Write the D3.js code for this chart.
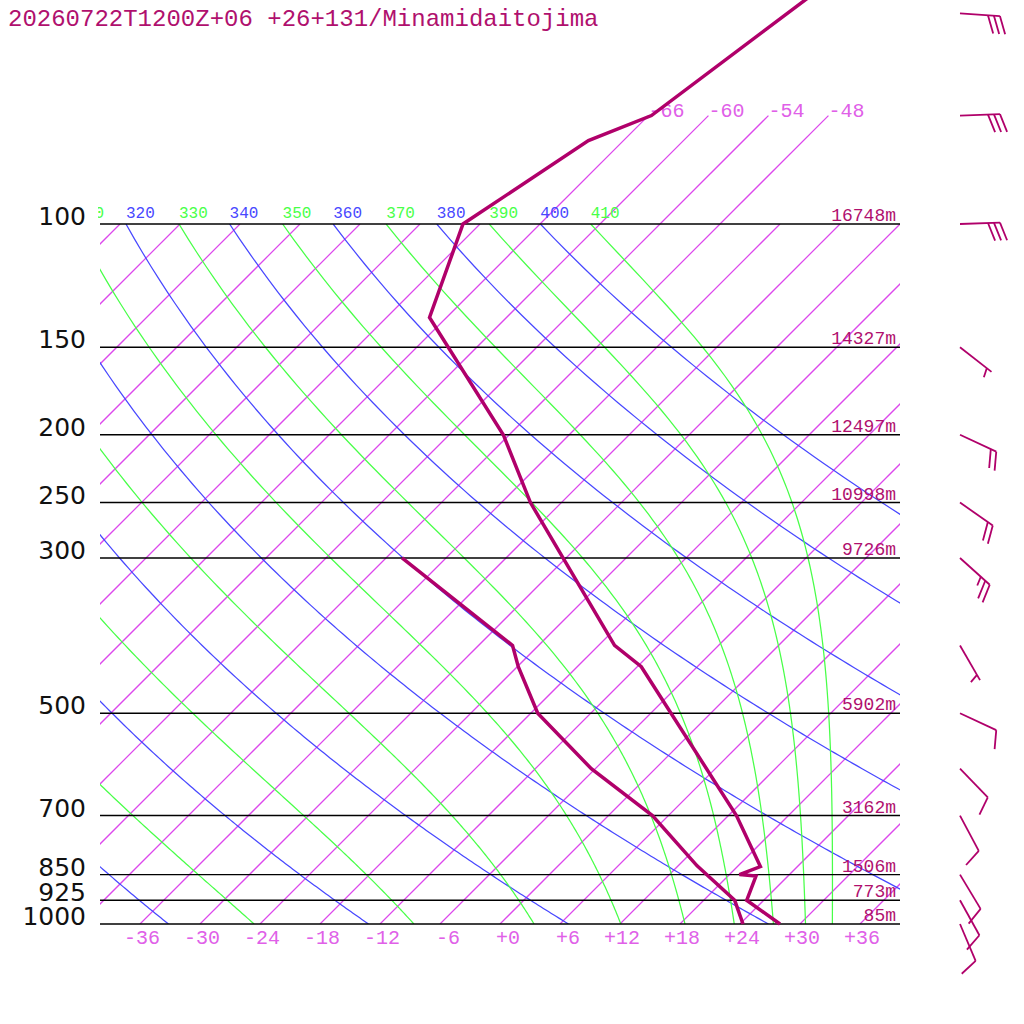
<!DOCTYPE html>
<html>
<head>
<meta charset="utf-8">
<script src="https://cdn.jsdelivr.net/npm/d3@7"></script>
<style>
  html, body { margin: 0; padding: 0; background: #ffffff; }
  svg { display: block; }
  .isotherm { fill: none; stroke: #dc48ec; stroke-width: 1.25px; }
  .dry { fill: none; stroke: #4848ff; stroke-width: 1.25px; }
  .moist { fill: none; stroke: #48ff48; stroke-width: 1.25px; }
</style>
</head>
<body>
<script>
// ---------------- DATA ----------------
const titleText = "20260722T1200Z+06 +26+131/Minamidaitojima";

const pressureLevels = [1000, 925, 850, 700, 500, 300, 250, 200, 150, 100];
const heightLabels   = ["85m", "773m", "1506m", "3162m", "5902m", "9726m", "10998m", "12497m", "14327m", "16748m"];

const tempTicks = [-36, -30, -24, -18, -12, -6, 0, 6, 12, 18, 24, 30, 36];
const topIsotherms = [-66, -60, -54, -48];

const thetaValues  = [240, 260, 280, 300, 320, 340, 360, 380, 400];        // dry adiabats (blue)
const thetaEValues = [250, 270, 290, 310, 330, 350, 370, 390, 410];        // pseudo-adiabats (green)

// Temperature profile
const tempP = [1000, 925, 854, 850, 828, 700, 429, 400, 300, 250, 200, 136, 100, 76, 70, 30];
const tempT = [28.0, 22.3, 20.8, 19.0, 20.3, 12.8, -11.6, -16.4, -30.3, -39.1, -48.6, -67.7, -73.7, -69.5, -65.7, -57.2];

// Dew point profile
const dewP = [1000, 925, 826, 700, 600, 500, 429, 400, 300];
const dewT = [24.3, 21.1, 13.9, 4.4, -6.4, -17.3, -23.9, -26.6, -46.4];

// Winds (direction deg from, speed kt)
const windP   = [1000, 925, 850, 700, 600, 500, 400, 300, 250, 200, 150, 100, 70, 50];
const windDir = [157, 151, 149, 152, 136, 115, 150, 132, 125, 115, 128, 88, 88, 94];
const windSpd = [10, 10, 10, 10, 10, 10, 5, 25, 20, 20, 5, 30, 30, 30];

// ---------------- STYLE ----------------
const C = {
  profile: "#b0006a",
  title: "#b0106e",
  heights: "#b0106e",
  isoLabel: "#e060e8",
  blue: "#4848ff",
  green: "#48ff48",
  black: "#000000"
};

// ---------------- SCALES ----------------
const W = 1024, H = 1024;
const y = d3.scaleLog().domain([1000, 100]).range([924, 224]);
const x0 = d3.scaleLinear().domain([-40, 40]).range([100, 900]);
const skew = p => y(1000) - y(p);
const sx = (T, p) => x0(T) + skew(p);

const svg = d3.select("body").append("svg")
  .attr("width", W).attr("height", H)
  .attr("viewBox", `0 0 ${W} ${H}`);

const defs = svg.append("defs");
defs.append("clipPath").attr("id", "plotClip")
  .append("rect").attr("x", 100).attr("y", 224).attr("width", 800).attr("height", 700);
defs.append("clipPath").attr("id", "labelClip")
  .append("rect").attr("x", 98).attr("y", 0).attr("width", 926).attr("height", 1024);

const lineGen = d3.line().x(d => d[0]).y(d => d[1]);

// pressure samples
const pSamples = [];
for (let p = 1000; p >= 100; p -= 5) pSamples.push(p);

// ---------------- BACKGROUND LINES ----------------
const grid = svg.append("g").attr("clip-path", "url(#plotClip)");

// isotherms
grid.selectAll("line.isotherm")
  .data(d3.range(-108, 37, 6))
  .join("line")
  .attr("class", "isotherm")
  .attr("x1", T => sx(T, 1000)).attr("y1", y(1000))
  .attr("x2", T => sx(T, 100)).attr("y2", y(100));

// dry adiabats
const dryT = (theta, p) => theta * Math.pow(p / 1000, 0.2857) - 273.15;
thetaValues.forEach(th => {
  const pts = pSamples.map(p => [sx(dryT(th, p), p), y(p)]);
  grid.append("path").attr("d", lineGen(pts)).attr("class", "dry");
});

// pseudo-adiabats (Bolton 1980)
function thetaESat(TK, p) {
  const Tc = TK - 273.15;
  const es = 6.112 * Math.exp(17.67 * Tc / (Tc + 243.5));
  if (es > 0.8 * p) return 1e6;
  const r = 622 * es / (p - es);
  const th = TK * Math.pow(1000 / p, 0.2854 * (1 - 0.00028 * r));
  return th * Math.exp((3.376 / TK - 0.00254) * r * (1 + 0.00081 * r));
}
function moistT(thE, p) {
  let lo = 120, hi = 340;
  for (let i = 0; i < 60; i++) {
    const mid = (lo + hi) / 2;
    if (thetaESat(mid, p) > thE) hi = mid; else lo = mid;
  }
  return (lo + hi) / 2 - 273.15;
}
thetaEValues.forEach(te => {
  const pts = pSamples.map(p => [sx(moistT(te, p), p), y(p)]);
  grid.append("path").attr("d", lineGen(pts)).attr("class", "moist");
});

// upper isotherms above 100 hPa
svg.selectAll("line.topiso")
  .data(topIsotherms)
  .join("line")
  .attr("class", "isotherm")
  .attr("x1", T => sx(T, 100)).attr("y1", y(100))
  .attr("x2", T => sx(T, 70)).attr("y2", y(70));
topIsotherms.forEach(T => {
  svg.append("text")
    .attr("x", sx(T, 70)).attr("y", y(70) + 1.5)
    .attr("font-family", "Liberation Mono, monospace").attr("font-size", 20)
    .attr("fill", C.isoLabel)
    .text(String(T));
});

// isentrope labels at 100 hPa
const lblG = svg.append("g").attr("clip-path", "url(#labelClip)");
const thetaLabels = thetaValues.map(v => ({ v, c: C.blue, T: dryT(v, 100) }))
  .concat(thetaEValues.map(v => ({ v, c: C.green, T: moistT(v, 100) })));
thetaLabels.forEach(d => {
  lblG.append("text")
    .attr("x", sx(d.T, 100)).attr("y", 218)
    .attr("font-family", "Liberation Mono, monospace").attr("font-size", 16)
    .attr("fill", d.c).text(d.v);
});

// isobars
pressureLevels.forEach((p, i) => {
  svg.append("line")
    .attr("x1", 100).attr("x2", 900).attr("y1", y(p)).attr("y2", y(p))
    .attr("stroke", C.black).attr("stroke-width", 1.4);
  svg.append("text")
    .attr("x", 86).attr("y", y(p) + 1)
    .attr("text-anchor", "end")
    .attr("font-family", "DejaVu Sans, sans-serif").attr("font-size", 25)
    .attr("fill", "#111").text(p);
  svg.append("text")
    .attr("x", 896).attr("y", y(p) - 3)
    .attr("text-anchor", "end")
    .attr("font-family", "Liberation Mono, monospace").attr("font-size", 18)
    .attr("fill", C.heights).text(heightLabels[i]);
});

// temperature axis labels
tempTicks.forEach(T => {
  svg.append("text")
    .attr("x", x0(T) + 20).attr("y", 944)
    .attr("text-anchor", "end")
    .attr("font-family", "Liberation Mono, monospace").attr("font-size", 20)
    .attr("fill", C.isoLabel)
    .text(T >= 0 ? "+" + T : String(T));
});

// ---------------- PROFILES ----------------
const tempPts = tempP.map((p, i) => [sx(tempT[i], p), y(p)]);
const dewPts = dewP.map((p, i) => [sx(dewT[i], p), y(p)]);
[tempPts, dewPts].forEach(pts => {
  svg.append("path").attr("d", lineGen(pts))
    .attr("fill", "none").attr("stroke", C.profile)
    .attr("stroke-width", 3.5).attr("stroke-linejoin", "miter");
});

// ---------------- WIND BARBS ----------------
const barbG = svg.append("g");
windP.forEach((p, i) => {
  const d = windDir[i] * Math.PI / 180;
  const ux = Math.sin(d), uy = -Math.cos(d);
  const bx = 960, by = y(p);
  const L = 40;
  const tx = bx + L * ux, ty = by + L * uy;
  const segs = [[[bx, by], [tx, ty]]];
  const a = Math.atan2(uy, ux) + 70 * Math.PI / 180;
  const fx = Math.cos(a), fy = Math.sin(a);
  const full = Math.floor(windSpd[i] / 10);
  const half = (windSpd[i] % 10) >= 5;
  let pos = (full === 0 && half) ? 6 : 0;
  for (let k = 0; k < full; k++) {
    const sxp = tx - pos * ux, syp = ty - pos * uy;
    segs.push([[sxp, syp], [sxp + 19 * fx, syp + 19 * fy]]);
    pos += 6;
  }
  if (half) {
    const sxp = tx - pos * ux, syp = ty - pos * uy;
    segs.push([[sxp, syp], [sxp + 9.5 * fx, syp + 9.5 * fy]]);
  }
  segs.forEach(s => {
    barbG.append("path").attr("d", lineGen(s))
      .attr("fill", "none").attr("stroke", C.profile).attr("stroke-width", 1.8);
  });
});

// ---------------- TITLE ----------------
svg.append("text")
  .attr("x", 8).attr("y", 26)
  .attr("font-family", "Liberation Mono, monospace").attr("font-size", 24)
  .attr("fill", C.title).text(titleText);
</script>
</body>
</html>
